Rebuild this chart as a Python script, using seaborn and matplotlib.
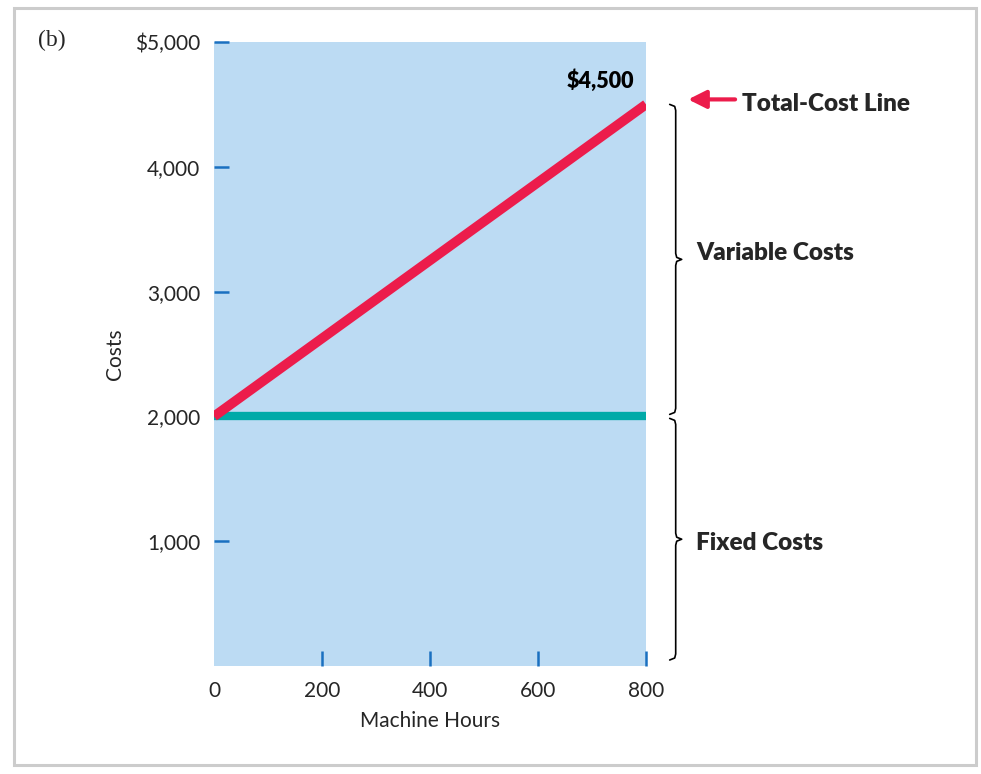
import matplotlib
matplotlib.use("Agg")
import matplotlib.pyplot as plt
import matplotlib.patches as patches
import pandas as pd
import seaborn as sns

# data
hours = [0, 800]
fixed_costs = [2000, 2000]
total_costs = [2000, 4500]
y_ticks = [1000, 2000, 3000, 4000, 5000]
y_tick_labels = ["1,000", "2,000", "3,000", "4,000", "$5,000"]
x_ticks = [0, 200, 400, 600, 800]

df = pd.DataFrame({"hours": hours, "fixed": fixed_costs, "total": total_costs})

sns.set_theme(style="white")
plt.rcParams["font.family"] = ["Lato", "DejaVu Sans"]

red = "#ec1c4b"
teal = "#00aaa8"
blue_bg = "#bcdbf3"
tick_blue = "#1a70c0"

fig = plt.figure(figsize=(9.81, 7.74), dpi=100)
ax = fig.add_axes([214 / 981, 1 - 666 / 774, (646 - 214) / 981, (666 - 42) / 774])
ax.set_facecolor(blue_bg)

sns.lineplot(data=df, x="hours", y="fixed", color=teal, linewidth=6, ax=ax, solid_capstyle="butt")
sns.lineplot(data=df, x="hours", y="total", color=red, linewidth=7, ax=ax, solid_capstyle="butt")

ax.set_xlim(0, 800)
ax.set_ylim(0, 5000)
for s in ax.spines.values():
    s.set_visible(False)

ax.set_yticks(y_ticks)
ax.set_yticklabels(y_tick_labels)
ax.set_xticks(x_ticks)
ax.set_xticklabels([str(v) for v in x_ticks])
ax.tick_params(axis="y", direction="in", length=11, width=1.8, color=tick_blue,
               labelsize=15, pad=10, left=True)
ax.tick_params(axis="x", direction="in", length=11, width=1.8, color=tick_blue,
               labelsize=15, pad=11, bottom=True)
ax.xaxis.get_major_ticks()[0].tick1line.set_visible(False)

ax.set_xlabel("Machine Hours", fontsize=15, labelpad=7)
ax.set_ylabel("Costs", fontsize=15, labelpad=7)

# end value label
ax.text(778, 4690, "$4,500", ha="right", va="center", fontsize=15.5, fontweight="heavy", color="black")

# braces to the right of the plot
px = 800 / 432  # data units per pixel, x
py = 5000 / 624  # data units per pixel, y


def brace(x, ytop, ybot):
    ymid = (ytop + ybot) / 2
    xs = [x - 6 * px, x - 1 * px, x, x, x + 1 * px, x + 6 * px, x + 1 * px, x, x, x - 1 * px, x - 6 * px]
    ys = [ytop, ytop - 2 * py, ytop - 6 * py, ymid + 6 * py, ymid + 2 * py, ymid,
          ymid - 2 * py, ymid - 6 * py, ybot + 6 * py, ybot + 2 * py, ybot]
    ax.plot(xs, ys, color="black", linewidth=1.2, clip_on=False)


brace_x = 855
brace(brace_x, total_costs[-1], fixed_costs[-1] + 2 * py)
brace(brace_x, fixed_costs[-1] - 2 * py, 0 + 6 * py)

ax.annotate("", xy=(878, total_costs[-1] + 40), xytext=(965, total_costs[-1] + 40),
            arrowprops=dict(arrowstyle="-|>,head_length=0.9,head_width=0.45", color=red, lw=3,
                            shrinkA=0, shrinkB=0), annotation_clip=False)
ax.text(978, total_costs[-1] + 5, "Total-Cost Line", ha="left", va="center", fontsize=17.5,
        fontweight="heavy", clip_on=False)
ax.text(893, (total_costs[-1] + fixed_costs[-1]) / 2 + 60, "Variable Costs", ha="left", va="center",
        fontsize=17.5, fontweight="heavy", clip_on=False)
ax.text(893, 985, "Fixed Costs", ha="left", va="center", fontsize=17.5, fontweight="heavy", clip_on=False)

# panel label and outer frame
fig.text(38 / 981, 1 - 40 / 774, "(b)", fontsize=17, family=["Liberation Serif", "DejaVu Serif"],
         ha="left", va="center")
fig.patches.append(patches.Rectangle((14 / 981, 1 - 765 / 774), (976 - 14) / 981, (765 - 8) / 774,
                                     transform=fig.transFigure, fill=False, edgecolor="#cccccc",
                                     linewidth=2.2))

fig.savefig("out.png", dpi=100)
